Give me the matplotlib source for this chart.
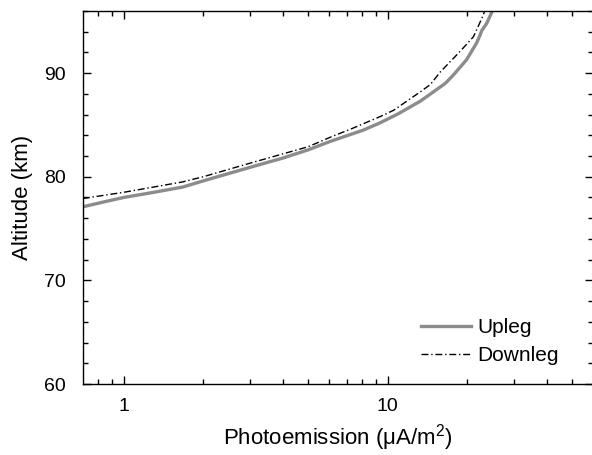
import matplotlib
matplotlib.use("Agg")
import matplotlib.pyplot as plt
from matplotlib.ticker import MultipleLocator, FixedLocator, NullFormatter

plt.rcParams['font.family'] = ['Liberation Sans', 'DejaVu Sans']
plt.rcParams['mathtext.fontset'] = 'custom'
plt.rcParams['mathtext.rm'] = 'Liberation Sans'
plt.rcParams['mathtext.it'] = 'Liberation Sans'

upleg_x = [0.70, 0.85, 1.0, 1.3, 1.67, 2.0, 3.0, 4.0, 5.0, 6.04, 8.08, 9.35, 11.0, 13.3, 16.5, 17.7, 19.9, 21.7, 22.4, 22.7, 23.7, 24.8, 25.2]
upleg_alt = [77.1, 77.6, 78.0, 78.5, 79.0, 79.6, 80.9, 81.8, 82.6, 83.4, 84.5, 85.2, 86.1, 87.3, 89.0, 89.8, 91.3, 92.9, 93.7, 94.1, 94.8, 95.9, 96.4]

downleg_x = [0.70, 1.0, 1.67, 2.0, 3.0, 4.0, 5.0, 6.04, 7.4, 9.35, 10.5, 13.3, 14.5, 15.8, 18.8, 21.1, 22.0, 23.0, 23.5]
downleg_alt = [77.9, 78.5, 79.5, 80.0, 81.3, 82.2, 82.9, 83.8, 84.7, 85.8, 86.4, 88.2, 88.9, 90.1, 92.1, 93.5, 94.5, 95.6, 96.3]

fig = plt.figure(figsize=(5.92, 4.55), dpi=100)
ax = fig.add_axes([0.140, 0.156, 0.862, 0.820])

ax.plot(upleg_x, upleg_alt, color='#8c8c8c', lw=2.4, label='Upleg')
ax.plot(downleg_x, downleg_alt, color='black', lw=1.0, linestyle=(0, (5, 2, 1, 2)), label='Downleg')

ax.set_xscale('log')
ax.set_xlim(0.70, 60)
ax.set_ylim(60, 96)

ax.xaxis.set_major_locator(FixedLocator([1, 10]))
ax.set_xticklabels(['1', '10'])
ax.xaxis.set_minor_locator(FixedLocator([0.8, 0.9, 2, 3, 4, 5, 6, 7, 8, 9, 20, 30, 40, 50]))
ax.xaxis.set_minor_formatter(NullFormatter())
ax.yaxis.set_major_locator(MultipleLocator(10))
ax.yaxis.set_minor_locator(MultipleLocator(2))

ax.tick_params(which='both', direction='in', top=True, right=True, labelsize=14, width=1)
ax.tick_params(which='major', length=6)
ax.tick_params(which='minor', length=3.5)
ax.tick_params(axis='x', pad=10)
ax.tick_params(axis='y', pad=12)

for s in ax.spines.values():
    s.set_linewidth(1.0)

ax.set_xlabel('Photoemission (μA/m$^2$)', fontsize=16, labelpad=5)
ax.set_ylabel('Altitude (km)', fontsize=16, labelpad=8)

ax.legend(loc='lower right', frameon=False, fontsize=15, handlelength=2.4,
          handletextpad=0.3, labelspacing=0.45, bbox_to_anchor=(0.97, 0.0))

fig.savefig('out.png', dpi=100)
